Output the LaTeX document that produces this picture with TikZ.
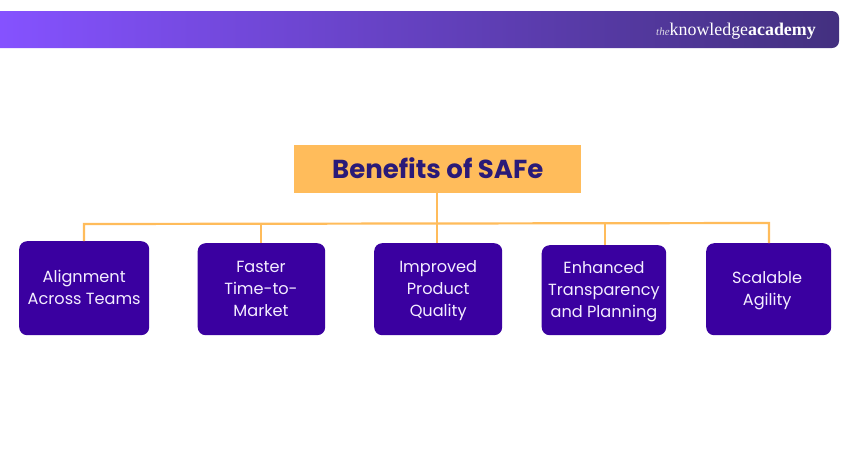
\documentclass[tikz,border=0pt]{standalone}
\usepackage{fontspec}
\setmainfont{Poppins}
\newfontfamily\logofont{Liberation Serif}
\usetikzlibrary{calc}
\definecolor{boxfill}{HTML}{3A00A0}
\definecolor{accent}{HTML}{FFBC5B}
\definecolor{titleink}{HTML}{2A1A78}
\definecolor{boxink}{HTML}{F4EEFF}
\definecolor{bandleft}{HTML}{8552FF}
\definecolor{bandright}{HTML}{43307F}
\newcommand{\boxlines}[2]{\hspace*{#1}\raisebox{-1pt}[\height][\depth]{\begin{tabular}{@{}c@{}}#2\end{tabular}}}
\tikzset{
  x=1pt,y=-1pt,
  benefit/.style={draw=none,fill=boxfill,rounded corners=8pt,inner sep=0pt,align=center,text=boxink,
    font=\fontsize{16.15}{22}\selectfont,anchor=north west},
  link/.style={draw=accent,line width=2.2pt},
}
\begin{document}
\begin{tikzpicture}
\useasboundingbox (0,0) rectangle (850,450);
\fill[white] (0,0) rectangle (850,450);
% banner
\shade[left color=bandleft,right color=bandright,shading angle=90]
  (0,11) [rounded corners=7pt] -- (839,11) -- (839,48) [sharp corners] -- (0,48) -- cycle;
\node[anchor=base west,inner sep=0pt,text=white,font=\logofont\fontsize{17.9}{20}\selectfont] (logo) at (656,35.5)
  {{\itshape\fontsize{11}{12}\selectfont\color{white!80!bandright}the}knowledge\textbf{academy}};
% title
\node[fill=accent,minimum width=287pt,minimum height=48pt,inner sep=0pt,anchor=north west,text=titleink,
  font=\fontsize{26}{30}\selectfont\bfseries] (title) at (294,145) {\raisebox{1pt}[\height][\depth]{Benefits of SAFe}};
% boxes
\node[benefit,minimum width=130pt,minimum height=94pt] (b1) at (19,241) {\boxlines{0pt}{Alignment\\Across Teams}};
\node[benefit,minimum width=127.5pt,minimum height=92pt] (b2) at (197.5,243) {\boxlines{-1pt}{Faster\\Time-to-\\Market}};
\node[benefit,minimum width=128pt,minimum height=92pt] (b3) at (374,243) {\boxlines{0pt}{Improved\\Product\\Quality}};
\node[benefit,minimum width=124.5pt,minimum height=90pt] (b4) at (541.5,245) {\boxlines{0pt}{Enhanced\\Transparency\\and Planning}};
\node[benefit,minimum width=125pt,minimum height=92pt] (b5) at (706,243) {\boxlines{-3pt}{Scalable\\Agility}};
% connectors
\coordinate (busl) at (84,224);
\coordinate (busr) at (769,223);
\coordinate (bus2) at (261,224);
\coordinate (bus4) at (605,223.5);
\draw[link] (b1.north -| busl) -- (busl) -- (busr) -- (b5.north -| busr);
\draw[link] ($(title.south)+(-1,0)$) -- ($(b3.north)+(-1.5,0)$);
\draw[link] (b2.north -| bus2) -- (bus2);
\draw[link] (b4.north -| bus4) -- (bus4);
\end{tikzpicture}
\end{document}
